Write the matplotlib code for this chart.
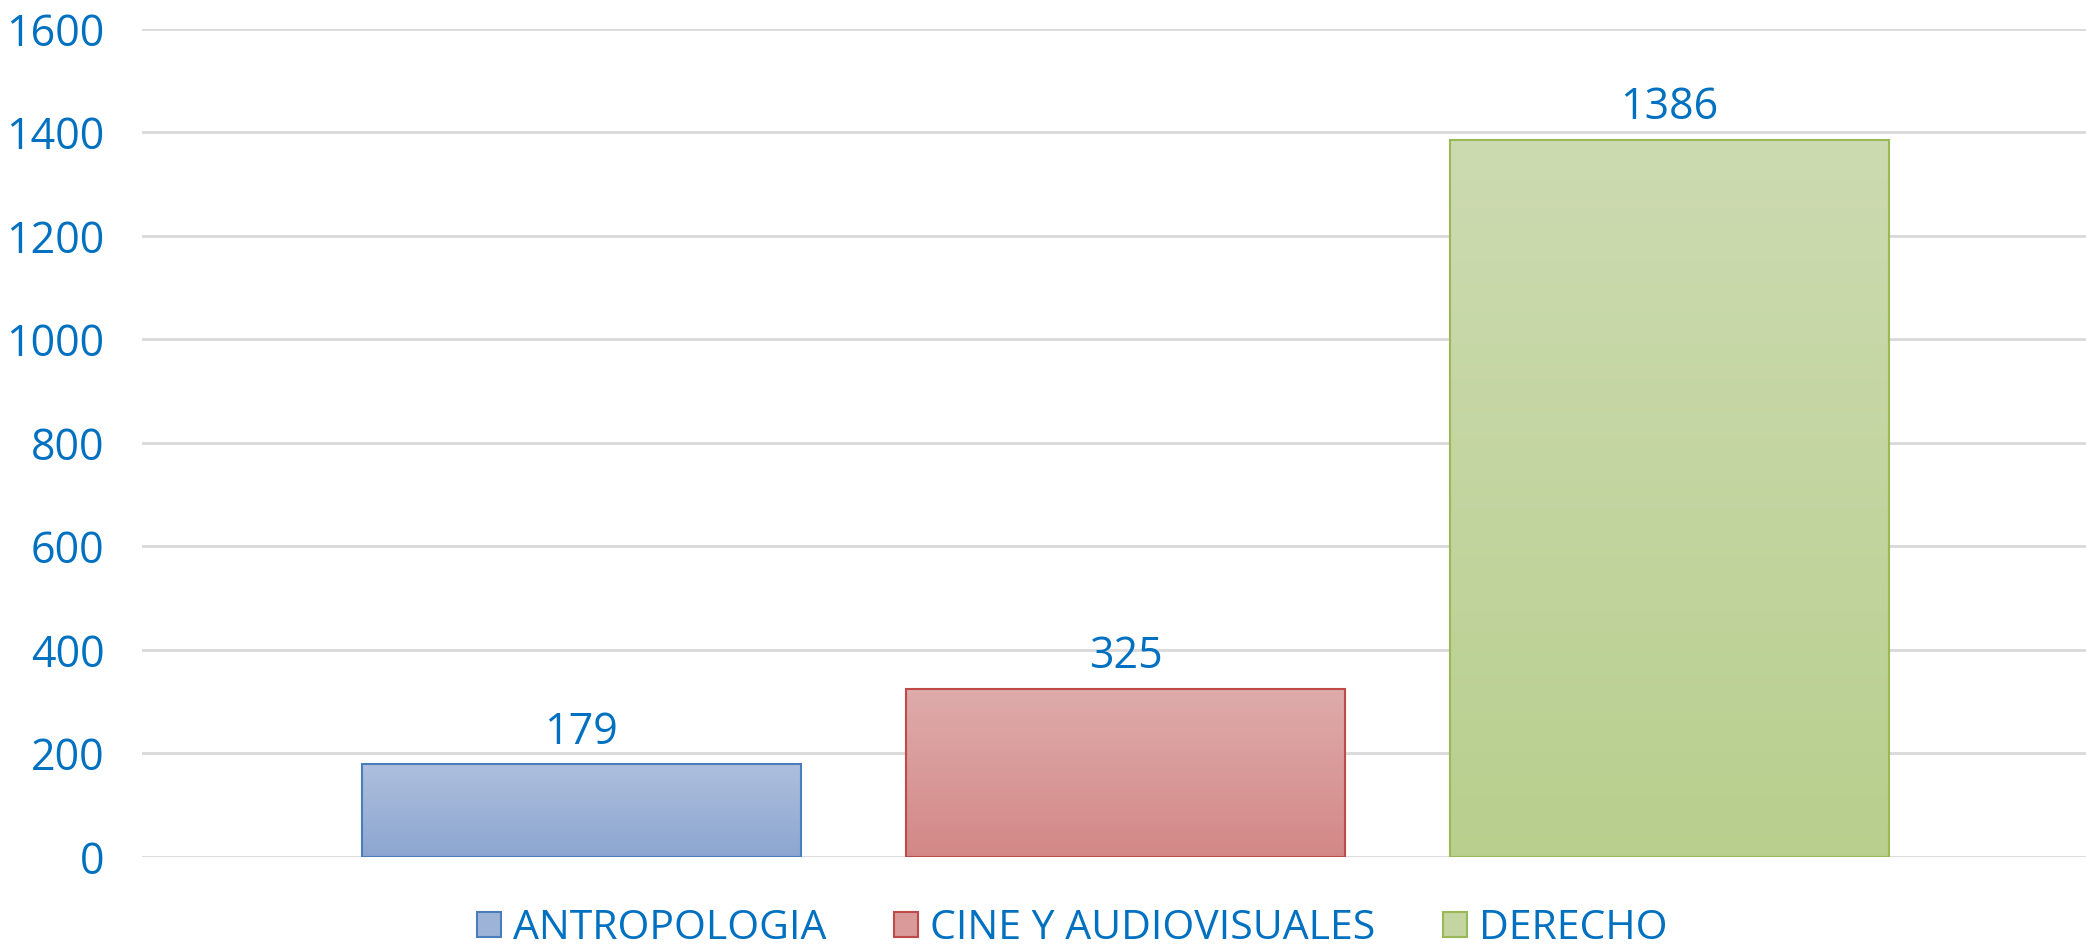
import numpy as np
import matplotlib.pyplot as plt
from matplotlib.colors import to_rgb
from matplotlib.patches import Patch

plt.rcParams['font.family'] = ['Open Sans', 'DejaVu Sans']

# Data
series = ["ANTROPOLOGIA", "CINE Y AUDIOVISUALES", "DERECHO"]
values = [179, 325, 1386]
yticks = [0, 200, 400, 600, 800, 1000, 1200, 1400, 1600]

# gradient colours (top, bottom) and edge colour per series
top_colors = ["#AEBFDD", "#DEACAB", "#CDDBB1"]
bottom_colors = ["#8CA6D1", "#D38887", "#B8CF8E"]
edge_colors = ["#4A7EBB", "#BE4B48", "#98B954"]
text_color = "#0070C0"

fig = plt.figure(figsize=(20.86, 9.46), dpi=100)
ax = fig.add_axes([0.0681, 0.0941, 0.9319, 0.8753])

width = 0.807
x = np.arange(len(values))
for i, v in enumerate(values):
    c_top = np.array(to_rgb(top_colors[i]))
    c_bot = np.array(to_rgb(bottom_colors[i]))
    t = np.linspace(0, 1, 256)[:, None]
    grad = (c_top * (1 - t) + c_bot * t)[:, None, :]
    ax.imshow(grad, extent=(x[i] - width / 2, x[i] + width / 2, 0, v),
              aspect='auto', zorder=2, interpolation='bilinear')
    ax.bar(x[i], v, width=width, facecolor='none', edgecolor=edge_colors[i],
           linewidth=1.5, zorder=3)
    ax.annotate(str(v), (x[i], v), xytext=(0, 15), textcoords='offset points',
                ha='center', va='baseline', fontsize=31, color=text_color)

ax.set_xlim(-0.807, 2.765)
ax.set_ylim(0, 1600)
ax.set_yticks(yticks)
ax.set_xticks([])
ax.tick_params(axis='y', length=0, pad=27, labelsize=31, labelcolor=text_color)
ax.grid(axis='y', color='#D9D9D9', linewidth=2, zorder=0)
ax.set_axisbelow(True)
for s in ax.spines.values():
    s.set_visible(False)

handles = [Patch(facecolor=(np.array(to_rgb(top_colors[i])) + np.array(to_rgb(bottom_colors[i]))) / 2,
                 edgecolor=edge_colors[i], linewidth=1.5, label=series[i])
           for i in range(len(series))]
leg = fig.legend(handles=handles, loc='lower center', bbox_to_anchor=(0.514, -0.042),
                 ncol=3, frameon=False, fontsize=29.5, handlelength=0.58, handleheight=0.58,
                 handletextpad=0.3, columnspacing=1.65)
for txt in leg.get_texts():
    txt.set_color(text_color)

fig.savefig('out.png', dpi=100)
